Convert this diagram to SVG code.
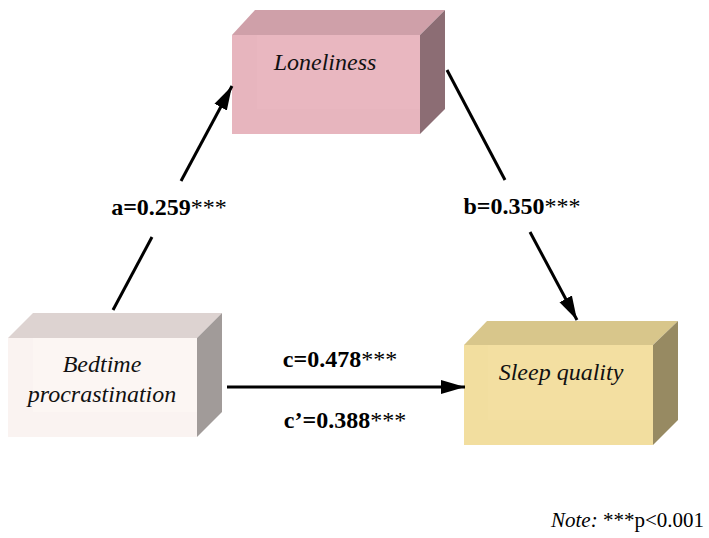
<svg xmlns="http://www.w3.org/2000/svg" width="709" height="538" viewBox="0 0 709 538">
<style>
.node{font-family:"Liberation Serif","Times New Roman",serif;font-style:italic;font-size:24px;fill:#111;text-anchor:middle}
.lbl{font-family:"Liberation Serif","Times New Roman",serif;font-weight:bold;font-size:24px;fill:#000;text-anchor:middle}
.ast{font-weight:normal}
.conn{stroke:#000;stroke-width:3;fill:none}
.note{font-family:"Liberation Serif","Times New Roman",serif;font-size:21px;fill:#000;text-anchor:end}
</style>
<defs>
<marker id="ah" markerUnits="userSpaceOnUse" markerWidth="25" markerHeight="16" viewBox="0 0 25 16" refX="24" refY="8" orient="auto">
<path d="M0,1 L24,8 L0,15 Z" fill="#000"/>
</marker>
</defs>
<rect width="709" height="538" fill="#fff"/>
<g id="loneliness">
<polygon points="232,35 255,10 445,10 420,35" fill="#cfa0a9"/>
<polygon points="420,35 445,10 445,109 420,134" fill="#8c6d74"/>
<rect x="232" y="35" width="188" height="99" fill="#e7b5be"/>
<rect x="257" y="35" width="163" height="74" fill="#e9b8c1" opacity="0.7"/>
<text class="node" x="325" y="70">Loneliness</text>
</g>
<g id="bedtime">
<polygon points="8,338 33,313 222,313 197,338" fill="#ddd3d1"/>
<polygon points="197,338 222,313 222,412 197,437" fill="#a19b99"/>
<rect x="8" y="338" width="189" height="99" fill="#faf3f1"/>
<rect x="33" y="338" width="164" height="74" fill="#fcf6f4" opacity="0.7"/>
<text class="node" x="102" y="372">Bedtime</text>
<text class="node" x="102" y="402">procrastination</text>
</g>
<g id="sleep">
<polygon points="464,345 487,321 678,321 653,345" fill="#d8c68b"/>
<polygon points="653,345 678,321 678,420 653,445" fill="#978a62"/>
<rect x="464" y="345" width="189" height="100" fill="#f2de9f"/>
<rect x="488" y="345" width="165" height="75" fill="#f3e0a3" opacity="0.7"/>
<text class="node" x="561" y="380">Sleep quality</text>
</g>
<g id="connectors">
<line class="conn" x1="113" y1="310" x2="152" y2="237"/>
<line class="conn" x1="181" y1="181" x2="232" y2="86" marker-end="url(#ah)"/>
<line class="conn" x1="447" y1="70" x2="505" y2="180"/>
<line class="conn" x1="530" y1="232" x2="577" y2="320" marker-end="url(#ah)"/>
<line class="conn" x1="227" y1="387" x2="465" y2="387" marker-end="url(#ah)"/>
</g>
<g id="labels">
<text class="lbl" x="169" y="215">a=0.259<tspan class="ast">***</tspan></text>
<text class="lbl" x="522" y="214">b=0.350<tspan class="ast">***</tspan></text>
<text class="lbl" x="340" y="367">c=0.478<tspan class="ast">***</tspan></text>
<text class="lbl" x="345" y="428">c’=0.388<tspan class="ast">***</tspan></text>
</g>
<text class="note" x="704" y="527"><tspan font-style="italic">Note:</tspan> ***p&lt;0.001</text>
</svg>
